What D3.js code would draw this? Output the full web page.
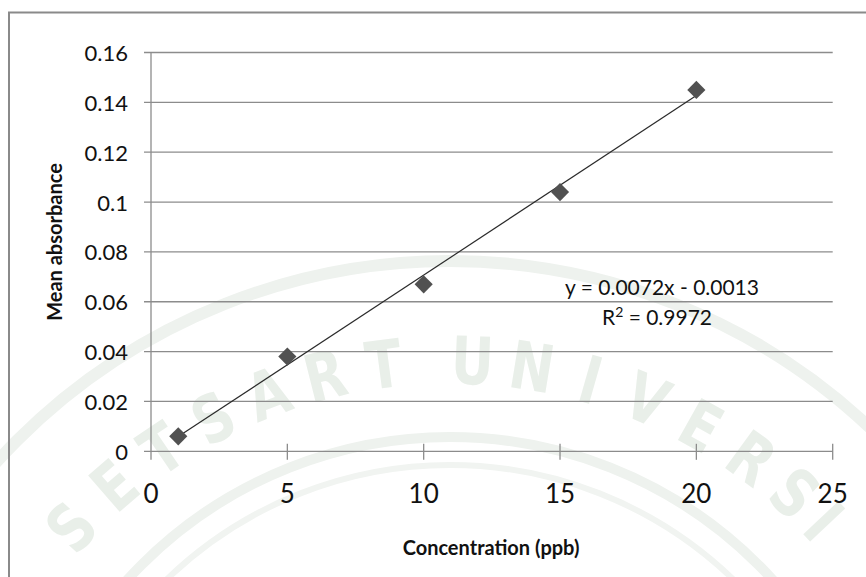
<!DOCTYPE html>
<html>
<head>
<meta charset="utf-8">
<script src="https://cdn.jsdelivr.net/npm/d3@7"></script>
<style>
  html, body { margin: 0; padding: 0; background: #fff; }
  svg { display: block; }
</style>
</head>
<body>
<svg id="chart" width="866" height="577"></svg>
<script>
// Calibration data: concentration (ppb) vs mean absorbance
const concentration = [1, 5, 10, 15, 20];
const absorbance = [0.006, 0.038, 0.067, 0.104, 0.145];

// Linear fit as reported on the chart
const slope = 0.0072;
const intercept = -0.0013;
const rSquared = 0.9972;

// Axis ticks
const xTicks = [0, 5, 10, 15, 20, 25];
const yTicks = [0, 0.02, 0.04, 0.06, 0.08, 0.1, 0.12, 0.14, 0.16];

// Watermark lettering (only the arc that falls inside the page)
const sealLetters = ["S", "E", "T", "S", "A", "R", "T", "U", "N", "I", "V", "E", "R", "S", "I"];
const sealAngles = [-47.6, -40.9, -34.2, -27.5, -20.8, -14.1, -7.4, 2.5, 9.2, 15.9, 22.6, 29.3, 36.0, 42.2, 46.8];

const svg = d3.select("#chart");
const W = 866, H = 577;
const font = "Lato, 'Open Sans', sans-serif";

const x = d3.scaleLinear().domain([0, 25]).range([151, 832.7]);
const y = d3.scaleLinear().domain([0, 0.16]).range([451.3, 52.5]);

// Faint university seal in the background
const seal = svg.append("g").attr("fill", "none");
const cx = 450, cy = 873, rText = 512;
[[612, 12, "#eef2ee"], [436, 10, "#eef2ee"], [408, 6, "#f1f4f1"]].forEach(([r, w, c]) => {
  seal.append("circle").attr("cx", cx).attr("cy", cy).attr("r", r)
    .attr("stroke", c).attr("stroke-width", w);
});
sealLetters.forEach((ch, i) => {
  const deg = sealAngles[i];
  const a = deg * Math.PI / 180;
  const px = cx + rText * Math.sin(a);
  const py = cy - rText * Math.cos(a);
  seal.append("text")
    .attr("transform", `translate(${px},${py}) rotate(${deg}) scale(0.8,1)`)
    .attr("text-anchor", "middle")
    .attr("dominant-baseline", "central")
    .attr("font-family", "'DejaVu Sans', sans-serif")
    .attr("font-weight", 700)
    .attr("font-size", 66)
    .attr("fill", "#e9efe9")
    .text(ch);
});

// Outer chart frame
svg.append("rect")
  .attr("x", 9).attr("y", 12.5)
  .attr("width", W).attr("height", H)
  .attr("fill", "none")
  .attr("stroke", "#8a8a8a")
  .attr("stroke-width", 2);

// Horizontal gridlines (with the short outside tick on the left)
svg.append("g").selectAll("line").data(yTicks).join("line")
  .attr("x1", 144).attr("x2", x(25))
  .attr("y1", d => y(d)).attr("y2", d => y(d))
  .attr("stroke", "#8c8c8c").attr("stroke-width", 1.3);

// Y axis line
svg.append("line")
  .attr("x1", x(0)).attr("x2", x(0))
  .attr("y1", y(0.16)).attr("y2", y(0) + 8.5)
  .attr("stroke", "#8c8c8c").attr("stroke-width", 1.3);

// X axis crossing ticks
svg.append("g").selectAll("line").data(xTicks.slice(1)).join("line")
  .attr("x1", d => x(d)).attr("x2", d => x(d))
  .attr("y1", y(0) - 7.5).attr("y2", y(0) + 8.5)
  .attr("stroke", "#8c8c8c").attr("stroke-width", 1.3);

// Tick labels
svg.append("g").selectAll("text").data(yTicks).join("text")
  .attr("x", 128).attr("y", d => y(d))
  .attr("text-anchor", "end")
  .attr("dominant-baseline", "central")
  .attr("font-family", font).attr("font-size", 22)
  .attr("fill", "#111")
  .text(d => d3.format("~g")(d));

svg.append("g").selectAll("text").data(xTicks).join("text")
  .attr("x", d => x(d)).attr("y", 503)
  .attr("text-anchor", "middle")
  .attr("font-family", font).attr("font-size", 26)
  .attr("fill", "#111")
  .text(d => d);

// Axis titles
svg.append("text")
  .attr("transform", "translate(62,242) rotate(-90)")
  .attr("text-anchor", "middle")
  .attr("font-family", font).attr("font-weight", 700).attr("font-size", 20)
  .attr("fill", "#111")
  .text("Mean absorbance");

svg.append("text")
  .attr("x", 491).attr("y", 555)
  .attr("text-anchor", "middle")
  .attr("font-family", font).attr("font-weight", 700).attr("font-size", 20)
  .attr("fill", "#111")
  .text("Concentration (ppb)");

// Trendline from the reported fit
const xMin = d3.min(concentration), xMax = d3.max(concentration);
svg.append("line")
  .attr("x1", x(xMin)).attr("y1", y(slope * xMin + intercept))
  .attr("x2", x(xMax)).attr("y2", y(slope * xMax + intercept))
  .attr("stroke", "#2a2a2a").attr("stroke-width", 1.2);

// Data markers (diamonds)
const diamond = d3.symbol().type(d3.symbolSquare).size(165);
svg.append("g").selectAll("path").data(concentration).join("path")
  .attr("d", diamond)
  .attr("transform", (d, i) => `translate(${x(d)},${y(absorbance[i])}) rotate(45)`)
  .attr("fill", "#515151");

// Fit equation and R²
const eq = svg.append("g")
  .attr("font-family", font).attr("font-size", 21).attr("fill", "#111")
  .attr("text-anchor", "middle");
eq.append("text").attr("x", 662).attr("y", 295)
  .text(`y = ${slope}x - ${Math.abs(intercept)}`);
const r2 = eq.append("text").attr("x", 657).attr("y", 325);
r2.append("tspan").text("R");
r2.append("tspan").attr("dy", -8).attr("font-size", 14).text("2");
r2.append("tspan").attr("dy", 8).text(` = ${rSquared}`);
</script>
</body>
</html>
